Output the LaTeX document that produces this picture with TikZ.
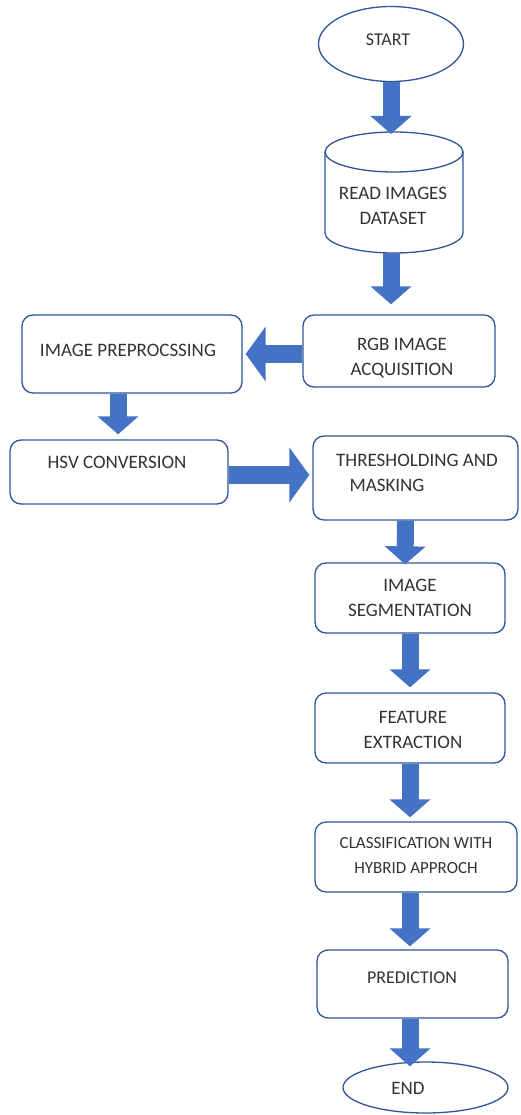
\documentclass[tikz,border=0pt]{standalone}
\usepackage{fontspec}
\setmainfont{Carlito}
\usetikzlibrary{shapes.geometric,arrows.meta,calc}
\definecolor{arrowblue}{HTML}{4472C4}
\definecolor{edgeblue}{HTML}{2F5597}
\begin{document}
\begin{tikzpicture}[x=1pt,y=-1pt,
  box/.style={draw=edgeblue, line width=1.3pt, rounded corners=11pt, fill=white, inner sep=0pt},
  oval/.style={ellipse, draw=edgeblue, line width=1.3pt, fill=white, inner sep=0pt},
  txt/.style={align=center, inner sep=0pt, font=\fontsize{19}{25}\selectfont, text=black!80},
  smalltxt/.style={txt, font=\fontsize{17}{25}\selectfont},
  blk/.style={arrowblue, line width=17pt, -{Triangle[width=40pt,length=18pt]}},
  blkwide/.style={arrowblue, line width=18pt, -{Triangle[width=54pt,length=20pt]}}]
\useasboundingbox (0,0) rectangle (520,1115);

% start
\node[oval, minimum width=145pt, minimum height=75pt] (start) at (391,44) {};
\node[txt, font=\fontsize{18}{25}\selectfont] (tstart) at (388,40) {START};

% cylinder
\draw[draw=edgeblue, line width=1.3pt, fill=white] (325,152) -- (325,233)
  arc[start angle=180, end angle=0, x radius=69, y radius=20] -- (463,152);
\draw[draw=edgeblue, line width=1.3pt, fill=white] (394,152) ellipse[x radius=69, y radius=20];
\coordinate (cyltop) at (394,134);
\coordinate (cylbot) at (391,253);
\node[txt] (tdata) at (393,206) {READ IMAGES\\DATASET};

% boxes
\node[box, minimum width=192pt, minimum height=72pt] (rgb) at (399,351) {};
\node[txt] (trgb) at (402,358) {RGB IMAGE\\ACQUISITION};

\node[box, minimum width=220pt, minimum height=78pt] (pre) at (132,354) {};
\node[txt] (tpre) at (128,350) {IMAGE PREPROCSSING};

\node[box, minimum width=218pt, minimum height=64pt] (hsv) at (119,472) {};
\node[txt] (thsv) at (117,462) {HSV CONVERSION};

\node[box, minimum width=205pt, minimum height=84pt] (thr) at (415.5,478) {};
\node[txt] (tthr1) at (417,460) {THRESHOLDING AND};
\node[txt] (tthr2) at (387,485) {MASKING};

\node[box, minimum width=190pt, minimum height=70pt] (seg) at (410,598) {};
\node[txt] (tseg) at (410,598) {IMAGE\\SEGMENTATION};

\node[box, minimum width=190pt, minimum height=70pt] (feat) at (410,728) {};
\node[txt] (tfeat) at (413,730) {FEATURE\\EXTRACTION};

\node[box, minimum width=202pt, minimum height=70pt] (cls) at (416,857) {};
\node[smalltxt] (tcls) at (416,856) {CLASSIFICATION WITH\\HYBRID APPROCH};

\node[box, minimum width=191pt, minimum height=68pt] (pred) at (412.5,984) {};
\node[txt, font=\fontsize{18}{25}\selectfont] (tpred) at (412,978) {PREDICTION};

\node[oval, minimum width=165pt, minimum height=51pt] (stop) at (425.5,1087.5) {};
\node[txt] (tstop) at (408,1088) {END};

% arrows
\draw[blk] (start.south) -- (start.south |- cyltop);
\draw[blk] (cylbot) -- ($(rgb.north -| cylbot)+(0,-10)$);
\draw[blkwide] (rgb.west |- pre.east) -- ($(pre.east)+(3,0)$);
\draw[blk] ($(pre.south)+(-14,0)$) -- ($(hsv.north)+(-1,-5)$);
\draw[blkwide] ($(hsv.east)+(0,3)$) -- ($(hsv.east -| thr.west)+(-3,3)$);
\draw[blk] ($(thr.south)+(-10,0)$) -- ($(seg.north)+(-5,2)$);
\draw[blk] (seg.south) -- ($(feat.north)+(0,-5)$);
\draw[blk] (feat.south) -- ($(cls.north -| feat.south)+(0,-4)$);
\draw[blk] (cls.south -| feat.south) -- ($(pred.north -| feat.south)+(0,-3)$);
\draw[blk] (pred.south -| feat.south) -- ($(stop.north -| feat.south)+(0,5)$);
\end{tikzpicture}
\end{document}
